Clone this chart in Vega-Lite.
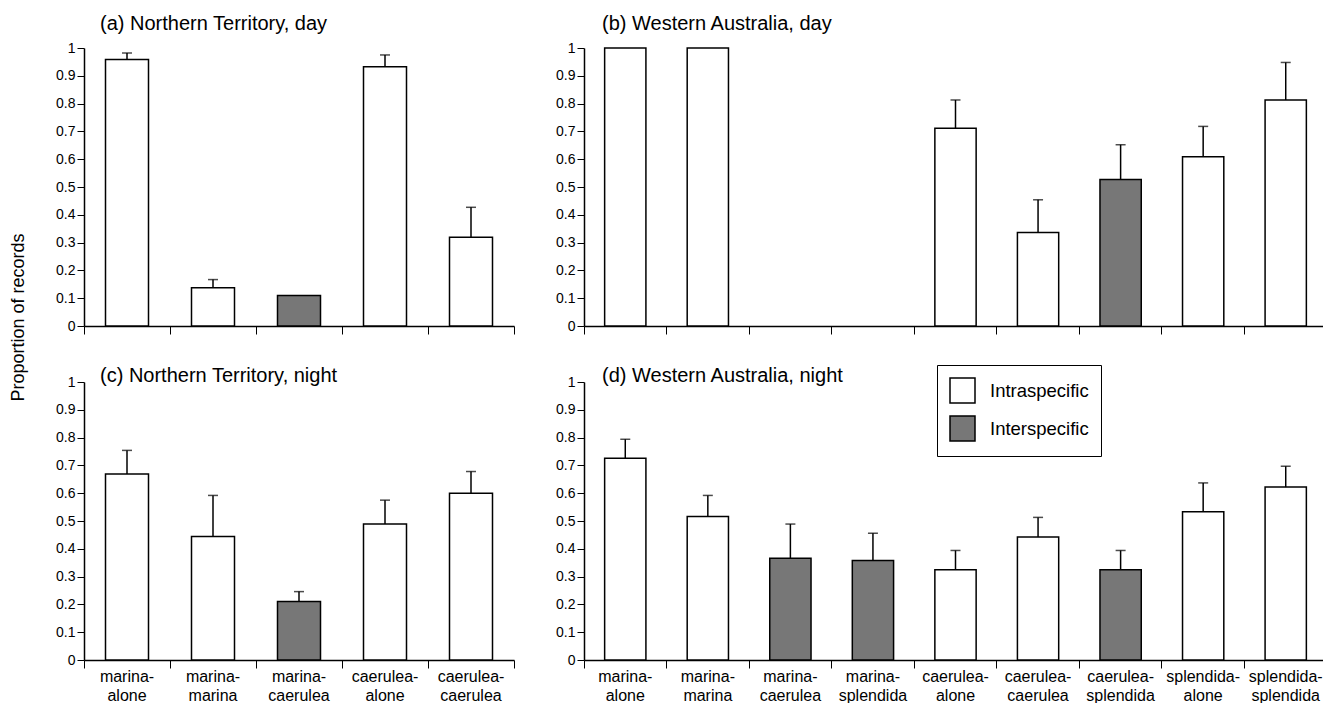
{
  "$schema": "https://vega.github.io/schema/vega-lite/v6.json",
  "padding": {"left": 9, "top": 14, "right": 0, "bottom": 0},
  "background": "white",
  "config": {
    "font": "Liberation Sans",
    "view": {"stroke": null},
    "axis": {"labelColor": "black", "domainColor": "black", "tickColor": "black", "domainWidth": 1.5, "tickWidth": 1, "grid": false, "labelFont": "Liberation Sans", "titleFont": "Liberation Sans"},
    "axisY": {"labelOverlap": false, "labelFontSize": 14, "tickSize": 7, "labelPadding": 2, "tickCount": 12},
    "title": {"font": "Liberation Sans", "fontWeight": "normal", "fontSize": 20, "color": "black"}
  },
  "datasets": {
    "rows": [
      {"panel": "a", "pair": "marina-alone", "type": "Intraspecific", "value": 0.959, "hi": 0.982},
      {"panel": "a", "pair": "marina-marina", "type": "Intraspecific", "value": 0.138, "hi": 0.167},
      {"panel": "a", "pair": "marina-caerulea", "type": "Interspecific", "value": 0.110},
      {"panel": "a", "pair": "caerulea-alone", "type": "Intraspecific", "value": 0.933, "hi": 0.975},
      {"panel": "a", "pair": "caerulea-caerulea", "type": "Intraspecific", "value": 0.319, "hi": 0.427},
      {"panel": "b", "pair": "marina-alone", "type": "Intraspecific", "value": 1.0},
      {"panel": "b", "pair": "marina-marina", "type": "Intraspecific", "value": 1.0},
      {"panel": "b", "pair": "marina-caerulea", "type": "Interspecific", "value": 0},
      {"panel": "b", "pair": "marina-splendida", "type": "Interspecific", "value": 0},
      {"panel": "b", "pair": "caerulea-alone", "type": "Intraspecific", "value": 0.711, "hi": 0.813},
      {"panel": "b", "pair": "caerulea-caerulea", "type": "Intraspecific", "value": 0.336, "hi": 0.454},
      {"panel": "b", "pair": "caerulea-splendida", "type": "Interspecific", "value": 0.527, "hi": 0.652},
      {"panel": "b", "pair": "splendida-alone", "type": "Intraspecific", "value": 0.609, "hi": 0.718},
      {"panel": "b", "pair": "splendida-splendida", "type": "Intraspecific", "value": 0.813, "hi": 0.948},
      {"panel": "c", "pair": "marina-alone", "type": "Intraspecific", "value": 0.669, "hi": 0.754},
      {"panel": "c", "pair": "marina-marina", "type": "Intraspecific", "value": 0.444, "hi": 0.592},
      {"panel": "c", "pair": "marina-caerulea", "type": "Interspecific", "value": 0.210, "hi": 0.246},
      {"panel": "c", "pair": "caerulea-alone", "type": "Intraspecific", "value": 0.489, "hi": 0.575},
      {"panel": "c", "pair": "caerulea-caerulea", "type": "Intraspecific", "value": 0.600, "hi": 0.678},
      {"panel": "d", "pair": "marina-alone", "type": "Intraspecific", "value": 0.726, "hi": 0.794},
      {"panel": "d", "pair": "marina-marina", "type": "Intraspecific", "value": 0.516, "hi": 0.592},
      {"panel": "d", "pair": "marina-caerulea", "type": "Interspecific", "value": 0.366, "hi": 0.489},
      {"panel": "d", "pair": "marina-splendida", "type": "Interspecific", "value": 0.358, "hi": 0.456},
      {"panel": "d", "pair": "caerulea-alone", "type": "Intraspecific", "value": 0.325, "hi": 0.394},
      {"panel": "d", "pair": "caerulea-caerulea", "type": "Intraspecific", "value": 0.442, "hi": 0.513},
      {"panel": "d", "pair": "caerulea-splendida", "type": "Interspecific", "value": 0.325, "hi": 0.394},
      {"panel": "d", "pair": "splendida-alone", "type": "Intraspecific", "value": 0.533, "hi": 0.637},
      {"panel": "d", "pair": "splendida-splendida", "type": "Intraspecific", "value": 0.622, "hi": 0.697}
    ]
  },
  "data": {"name": "rows"},
  "columns": 2,
  "align": "each",
  "bounds": "flush",
  "spacing": {"row": 56, "column": 70},
  "concat": [
    {
      "width": 430, "height": 278,
      "title": {"text": "(a) Northern Territory, day", "anchor": "start", "frame": "group", "dx": 16, "offset": -3, "baseline": "middle"},
      "transform": [{"filter": "datum.panel === 'a'"}],
      "encoding": {
        "x": {"field": "pair", "type": "nominal", "title": null,
              "scale": {"domain": ["marina-alone", "marina-marina", "marina-caerulea", "caerulea-alone", "caerulea-caerulea"], "paddingInner": 0, "paddingOuter": 0},
              "axis": {"labels": false, "bandPosition": 1, "tickExtra": true, "tickSize": 8}}
      },
      "layer": [
        {"transform": [{"filter": "datum.value > 0"}],
         "mark": {"type": "bar", "width": {"band": 0.5}, "stroke": "black", "strokeWidth": 1.5},
         "encoding": {
           "y": {"field": "value", "type": "quantitative", "scale": {"domain": [0, 1], "nice": false},
                 "axis": {"values": [0, 0.1, 0.2, 0.3, 0.4, 0.5, 0.6, 0.7, 0.8, 0.9, 1], "tickCount": 12, "format": ".1~f", "title": "Proportion of records", "titleFontSize": 18, "titleFontWeight": "normal", "titleAngle": 270, "titleX": -66, "titleY": 269, "titleBaseline": "middle", "titleAlign": "center"}},
           "fill": {"field": "type", "type": "nominal", "scale": {"domain": ["Intraspecific", "Interspecific"], "range": ["#ffffff", "#777777"]},
                    "legend": {"orient": "none", "legendX": 853, "legendY": 317, "title": null, "symbolType": "square", "symbolSize": 625, "symbolStrokeColor": "black", "symbolStrokeWidth": 1.5, "labelFontSize": 18.5, "labelOffset": 14, "rowPadding": 7, "padding": 12, "strokeColor": "black", "labelColor": "black"}}
         }},
        {"transform": [{"filter": "isValid(datum.hi)"}],
         "mark": {"type": "rule", "strokeWidth": 1.5, "color": "black"},
         "encoding": {"y": {"field": "value", "type": "quantitative", "axis": {"values": [0, 0.1, 0.2, 0.3, 0.4, 0.5, 0.6, 0.7, 0.8, 0.9, 1], "tickCount": 12, "format": ".1~f", "title": "Proportion of records", "titleFontSize": 18, "titleFontWeight": "normal", "titleAngle": 270, "titleX": -66, "titleY": 269, "titleBaseline": "middle", "titleAlign": "center"}}, "y2": {"field": "hi"}}},
        {"transform": [{"filter": "isValid(datum.hi)"}],
         "mark": {"type": "tick", "size": 10, "thickness": 1.5, "color": "black", "orient": "horizontal"},
         "encoding": {"y": {"field": "hi", "type": "quantitative", "axis": {"values": [0, 0.1, 0.2, 0.3, 0.4, 0.5, 0.6, 0.7, 0.8, 0.9, 1], "tickCount": 12, "format": ".1~f", "title": "Proportion of records", "titleFontSize": 18, "titleFontWeight": "normal", "titleAngle": 270, "titleX": -66, "titleY": 269, "titleBaseline": "middle", "titleAlign": "center"}}}}
      ]
    },
    {
      "width": 743, "height": 278,
      "title": {"text": "(b) Western Australia, day", "anchor": "start", "frame": "group", "dx": 18, "offset": -3, "baseline": "middle"},
      "transform": [{"filter": "datum.panel === 'b'"}],
      "encoding": {
        "x": {"field": "pair", "type": "nominal", "title": null,
              "scale": {"domain": ["marina-alone", "marina-marina", "marina-caerulea", "marina-splendida", "caerulea-alone", "caerulea-caerulea", "caerulea-splendida", "splendida-alone", "splendida-splendida"], "paddingInner": 0, "paddingOuter": 0},
              "axis": {"labels": false, "bandPosition": 1, "tickExtra": true, "tickSize": 8}}
      },
      "layer": [
        {"transform": [{"filter": "datum.value > 0"}],
         "mark": {"type": "bar", "width": {"band": 0.5}, "stroke": "black", "strokeWidth": 1.5},
         "encoding": {
           "y": {"field": "value", "type": "quantitative", "scale": {"domain": [0, 1], "nice": false}, "axis": {"values": [0, 0.1, 0.2, 0.3, 0.4, 0.5, 0.6, 0.7, 0.8, 0.9, 1], "tickCount": 12, "format": ".1~f", "title": null}},
           "fill": {"field": "type", "type": "nominal", "scale": {"domain": ["Intraspecific", "Interspecific"], "range": ["#ffffff", "#777777"]},
                    "legend": {"orient": "none", "legendX": 853, "legendY": 317, "title": null, "symbolType": "square", "symbolSize": 625, "symbolStrokeColor": "black", "symbolStrokeWidth": 1.5, "labelFontSize": 18.5, "labelOffset": 14, "rowPadding": 7, "padding": 12, "strokeColor": "black", "labelColor": "black"}}
         }},
        {"transform": [{"filter": "isValid(datum.hi)"}],
         "mark": {"type": "rule", "strokeWidth": 1.5, "color": "black"},
         "encoding": {"y": {"field": "value", "type": "quantitative", "axis": {"values": [0, 0.1, 0.2, 0.3, 0.4, 0.5, 0.6, 0.7, 0.8, 0.9, 1], "tickCount": 12, "format": ".1~f", "title": null}}, "y2": {"field": "hi"}}},
        {"transform": [{"filter": "isValid(datum.hi)"}],
         "mark": {"type": "tick", "size": 10, "thickness": 1.5, "color": "black", "orient": "horizontal"},
         "encoding": {"y": {"field": "hi", "type": "quantitative", "axis": {"values": [0, 0.1, 0.2, 0.3, 0.4, 0.5, 0.6, 0.7, 0.8, 0.9, 1], "tickCount": 12, "format": ".1~f", "title": null}}}}
      ]
    },
    {
      "width": 430, "height": 278,
      "title": {"text": "(c) Northern Territory, night", "anchor": "start", "frame": "group", "dx": 16, "offset": -21, "baseline": "middle"},
      "transform": [{"filter": "datum.panel === 'c'"}],
      "encoding": {
        "x": {"field": "pair", "type": "nominal", "title": null,
              "scale": {"domain": ["marina-alone", "marina-marina", "marina-caerulea", "caerulea-alone", "caerulea-caerulea"], "paddingInner": 0, "paddingOuter": 0},
              "axis": {"bandPosition": 1, "tickExtra": true, "tickSize": 8, "labelAngle": 0, "labelFontSize": 16, "labelLineHeight": 19, "labelPadding": 0, "labelBaseline": "top",
                       "labelExpr": "indexof(datum.label || '', '-') > 0 ? [split(datum.label, '-')[0] + '-', split(datum.label, '-')[1]] : ''"}}
      },
      "layer": [
        {"transform": [{"filter": "datum.value > 0"}],
         "mark": {"type": "bar", "width": {"band": 0.5}, "stroke": "black", "strokeWidth": 1.5},
         "encoding": {
           "y": {"field": "value", "type": "quantitative", "scale": {"domain": [0, 1], "nice": false}, "axis": {"values": [0, 0.1, 0.2, 0.3, 0.4, 0.5, 0.6, 0.7, 0.8, 0.9, 1], "tickCount": 12, "format": ".1~f", "title": null}},
           "fill": {"field": "type", "type": "nominal", "scale": {"domain": ["Intraspecific", "Interspecific"], "range": ["#ffffff", "#777777"]},
                    "legend": {"orient": "none", "legendX": 853, "legendY": 317, "title": null, "symbolType": "square", "symbolSize": 625, "symbolStrokeColor": "black", "symbolStrokeWidth": 1.5, "labelFontSize": 18.5, "labelOffset": 14, "rowPadding": 7, "padding": 12, "strokeColor": "black", "labelColor": "black"}}
         }},
        {"transform": [{"filter": "isValid(datum.hi)"}],
         "mark": {"type": "rule", "strokeWidth": 1.5, "color": "black"},
         "encoding": {"y": {"field": "value", "type": "quantitative", "axis": {"values": [0, 0.1, 0.2, 0.3, 0.4, 0.5, 0.6, 0.7, 0.8, 0.9, 1], "tickCount": 12, "format": ".1~f", "title": null}}, "y2": {"field": "hi"}}},
        {"transform": [{"filter": "isValid(datum.hi)"}],
         "mark": {"type": "tick", "size": 10, "thickness": 1.5, "color": "black", "orient": "horizontal"},
         "encoding": {"y": {"field": "hi", "type": "quantitative", "axis": {"values": [0, 0.1, 0.2, 0.3, 0.4, 0.5, 0.6, 0.7, 0.8, 0.9, 1], "tickCount": 12, "format": ".1~f", "title": null}}}}
      ]
    },
    {
      "width": 743, "height": 278,
      "title": {"text": "(d) Western Australia, night", "anchor": "start", "frame": "group", "dx": 18, "offset": -21, "baseline": "middle"},
      "transform": [{"filter": "datum.panel === 'd'"}],
      "encoding": {
        "x": {"field": "pair", "type": "nominal", "title": null,
              "scale": {"domain": ["marina-alone", "marina-marina", "marina-caerulea", "marina-splendida", "caerulea-alone", "caerulea-caerulea", "caerulea-splendida", "splendida-alone", "splendida-splendida"], "paddingInner": 0, "paddingOuter": 0},
              "axis": {"bandPosition": 1, "tickExtra": true, "tickSize": 8, "labelAngle": 0, "labelFontSize": 16, "labelLineHeight": 19, "labelPadding": 0, "labelBaseline": "top",
                       "labelExpr": "indexof(datum.label || '', '-') > 0 ? [split(datum.label, '-')[0] + '-', split(datum.label, '-')[1]] : ''"}}
      },
      "layer": [
        {"transform": [{"filter": "datum.value > 0"}],
         "mark": {"type": "bar", "width": {"band": 0.5}, "stroke": "black", "strokeWidth": 1.5},
         "encoding": {
           "y": {"field": "value", "type": "quantitative", "scale": {"domain": [0, 1], "nice": false}, "axis": {"values": [0, 0.1, 0.2, 0.3, 0.4, 0.5, 0.6, 0.7, 0.8, 0.9, 1], "tickCount": 12, "format": ".1~f", "title": null}},
           "fill": {"field": "type", "type": "nominal", "scale": {"domain": ["Intraspecific", "Interspecific"], "range": ["#ffffff", "#777777"]},
                    "legend": {"orient": "none", "legendX": 853, "legendY": 317, "title": null, "symbolType": "square", "symbolSize": 625, "symbolStrokeColor": "black", "symbolStrokeWidth": 1.5, "labelFontSize": 18.5, "labelOffset": 14, "rowPadding": 7, "padding": 12, "strokeColor": "black", "labelColor": "black"}}
         }},
        {"transform": [{"filter": "isValid(datum.hi)"}],
         "mark": {"type": "rule", "strokeWidth": 1.5, "color": "black"},
         "encoding": {"y": {"field": "value", "type": "quantitative", "axis": {"values": [0, 0.1, 0.2, 0.3, 0.4, 0.5, 0.6, 0.7, 0.8, 0.9, 1], "tickCount": 12, "format": ".1~f", "title": null}}, "y2": {"field": "hi"}}},
        {"transform": [{"filter": "isValid(datum.hi)"}],
         "mark": {"type": "tick", "size": 10, "thickness": 1.5, "color": "black", "orient": "horizontal"},
         "encoding": {"y": {"field": "hi", "type": "quantitative", "axis": {"values": [0, 0.1, 0.2, 0.3, 0.4, 0.5, 0.6, 0.7, 0.8, 0.9, 1], "tickCount": 12, "format": ".1~f", "title": null}}}}
      ]
    }
  ]
}
